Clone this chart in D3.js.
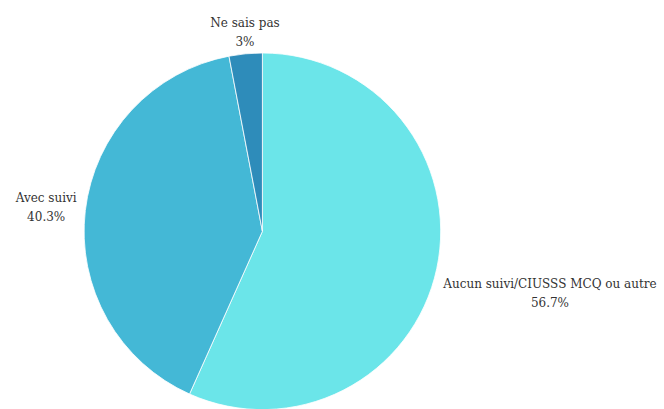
<!DOCTYPE html>
<html>
<head>
<meta charset="utf-8">
<script src="https://cdn.jsdelivr.net/npm/d3@7"></script>
<style>
  html, body { margin: 0; padding: 0; background: #fff; }
  svg { display: block; }
  text { font-family: "DejaVu Serif", serif; font-size: 12px; fill: #333; }
</style>
</head>
<body>
<svg id="chart" width="664" height="409"></svg>
<script>
const categories = ["Aucun suivi/CIUSSS MCQ ou autre", "Avec suivi", "Ne sais pas"];
const values = [56.7, 40.3, 3];
const valueLabels = ["56.7%", "40.3%", "3%"];
const colors = ["#6BE5E9", "#44B8D6", "#2E8CBA"];

const width = 664, height = 409;
const cx = 262.4, cy = 231.3, radius = 178.3;
const labelRadius = 185;
const lineH = 19;

const svg = d3.select("#chart");
const g = svg.append("g").attr("transform", `translate(${cx},${cy})`);

const data = categories.map((c, i) => ({ cat: c, value: values[i], label: valueLabels[i], color: colors[i] }));

const pie = d3.pie().value(d => d.value).sort(null);
const arcs = pie(data);
const arc = d3.arc().innerRadius(0).outerRadius(radius);

g.selectAll("path.slice")
  .data(arcs)
  .join("path")
  .attr("class", "slice")
  .attr("d", arc)
  .attr("fill", d => d.data.color)
  .attr("stroke", "#ffffff")
  .attr("stroke-width", 0.8);

const labelG = g.append("g");
arcs.forEach(d => {
  const a = (d.startAngle + d.endAngle) / 2;
  const px = Math.sin(a) * labelRadius;
  const py = -Math.cos(a) * labelRadius;
  const t = labelG.append("text").attr("text-anchor", "middle");
  const l1 = t.append("tspan").text(d.data.cat);
  const l2 = t.append("tspan").text(d.data.label);
  const w = Math.max(l1.node().getComputedTextLength(), l2.node().getComputedTextLength());
  let bx = px;
  if (Math.sin(a) > 0.3) bx = px + w / 2;
  else if (Math.sin(a) < -0.3) bx = px - w / 2 - 2;
  let y1;
  if (Math.cos(a) > 0.7) y1 = py - lineH - 1;      // above the pie
  else if (Math.sin(a) > 0) y1 = py + 18;           // right side, below the point
  else y1 = py - 8;                                 // left side, centred
  l1.attr("x", bx).attr("y", y1);
  l2.attr("x", bx).attr("y", y1 + lineH);
});
</script>
</body>
</html>
